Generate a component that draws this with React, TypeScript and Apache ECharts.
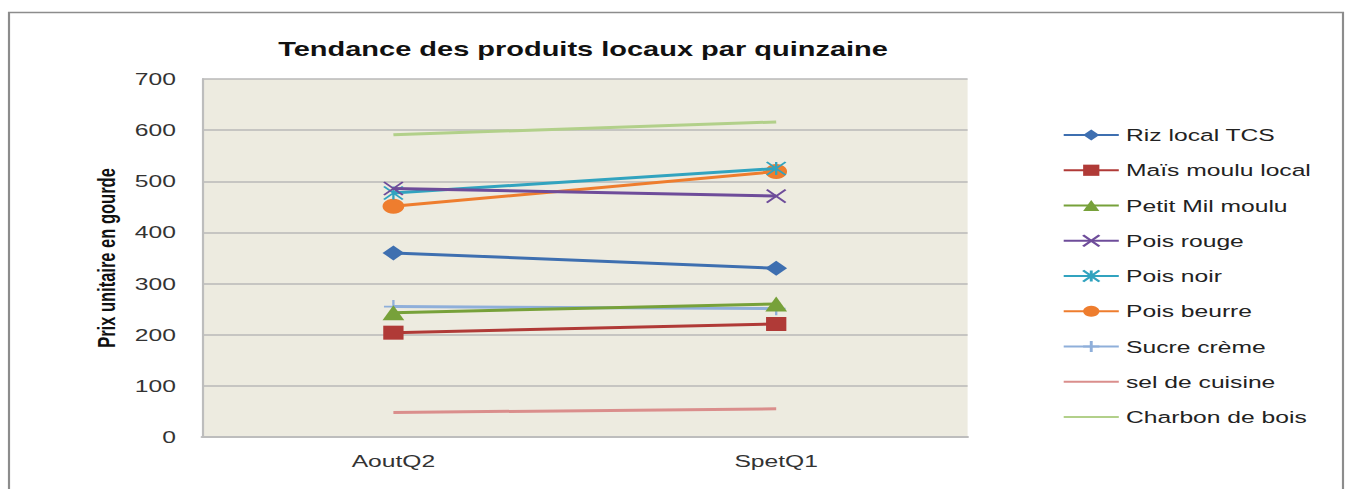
import React, { useEffect, useRef } from "react";
import * as echarts from "echarts";

const categories = ["AoutQ2", "SpetQ1"];
const seriesNames = [
  "Riz local TCS",
  "Maïs moulu local",
  "Petit Mil moulu",
  "Pois rouge",
  "Pois noir",
  "Pois beurre",
  "Sucre crème",
  "sel de cuisine",
  "Charbon de bois",
];
const rizValues = [360, 330];
const maisValues = [204, 221];
const milValues = [243, 260];
const poisRougeValues = [486, 471];
const poisNoirValues = [477, 525];
const poisBeurreValues = [451, 519];
const sucreValues = [255, 251];
const selValues = [48, 55];
const charbonValues = [591, 616];
const yTicks = [0, 100, 200, 300, 400, 500, 600, 700];

const colors = ["#3E6FB0", "#B03A37", "#77A13A", "#6E4C9A", "#31A3BF", "#EE7D2E", "#8FAFDA", "#DA8E8C", "#B2D08A"];
const symbols = [
  "diamond",
  "rect",
  "triangle",
  "path://M0 0 L10 10 M0 10 L10 0",
  "path://M0 0 L10 10 M0 10 L10 0 M5 0 L5 10",
  "circle",
  "path://M5 0 L5 10 M0 5 L10 5",
  "circle",
  "circle",
];
const symbolSizes = [15, 14, 15, 13, 13, 15, 13, 0, 0];
const stroked = [false, false, false, true, true, false, true, false, false];
const hidden = [false, false, false, false, false, false, false, true, true];

// horizontal stretch of the whole picture
const SX = 1.45;
const W = 1346 / SX;

export default function App() {
  const ref = useRef<HTMLDivElement>(null);
  useEffect(() => {
    const chart = echarts.init(ref.current!, null, { renderer: "svg" });
    const data = [rizValues, maisValues, milValues, poisRougeValues, poisNoirValues, poisBeurreValues, sucreValues, selValues, charbonValues];
    const font = "Liberation Sans";
    chart.setOption({
      animation: false,
      backgroundColor: "#ffffff",
      graphic: [
        {
          type: "rect",
          shape: { x: 9 / SX, y: 12.5, width: 1334 / SX, height: 500 },
          style: { fill: "none", stroke: "#8C8C8C", lineWidth: 1.5 },
          silent: true,
        },
        {
          type: "text",
          x: 583 / SX,
          y: 49,
          style: {
            text: "Tendance des produits locaux par quinzaine",
            fontFamily: font,
            fontWeight: "bold",
            fontSize: 20,
            fill: "#111",
            textAlign: "center",
            textVerticalAlign: "middle",
          },
        },
      ],
      legend: {
        orient: "vertical",
        left: 1055 / SX,
        top: 121.5,
        itemWidth: 38,
        itemHeight: 14,
        itemGap: 18.25,
        textStyle: { fontFamily: font, fontSize: 17, color: "#222" },
        data: seriesNames,
      },
      grid: {
        left: 202 / SX,
        top: 79,
        right: W - 968 / SX,
        bottom: 52,
        backgroundColor: "#EDEBE0",
        show: true,
        borderWidth: 0,
      },
      xAxis: {
        type: "category",
        data: categories,
        boundaryGap: true,
        axisLine: { show: true, lineStyle: { color: "#BDBDBD", width: 2 } },
        axisTick: { show: false },
        axisLabel: { fontFamily: font, fontSize: 17, color: "#333", margin: 15 },
      },
      yAxis: {
        type: "value",
        min: yTicks[0],
        max: yTicks[yTicks.length - 1],
        interval: 100,
        name: "Prix unitaire en gourde",
        nameLocation: "middle",
        nameGap: 57,
        nameTextStyle: { fontFamily: font, fontWeight: "bold", fontSize: 16.5, color: "#111" },
        axisLine: { show: true, lineStyle: { color: "#BDBDBD", width: 1.5 } },
        axisTick: { show: false },
        axisLabel: { fontFamily: font, fontSize: 17, color: "#333", margin: 18 },
        splitLine: { lineStyle: { color: "#B8B8B8", width: 1.5 } },
      },
      series: seriesNames.map((name, i) => ({
        name,
        type: "line",
        data: data[i],
        symbol: symbols[i],
        symbolSize: symbolSizes[i],
        showSymbol: !hidden[i],
        lineStyle: { color: colors[i], width: 3 },
        itemStyle: hidden[i]
          ? { color: "rgba(0,0,0,0)" }
          : stroked[i]
          ? { color: colors[i], borderColor: colors[i], borderWidth: 1.6 }
          : { color: colors[i] },
        z: 10 - i,
      })),
    });
    return () => chart.dispose();
  }, []);
  return (
    <div
      ref={ref}
      style={{
        position: "fixed",
        left: 0,
        top: 0,
        width: W,
        height: 489,
        transform: `scaleX(${SX})`,
        transformOrigin: "0 0",
      }}
    />
  );
}
